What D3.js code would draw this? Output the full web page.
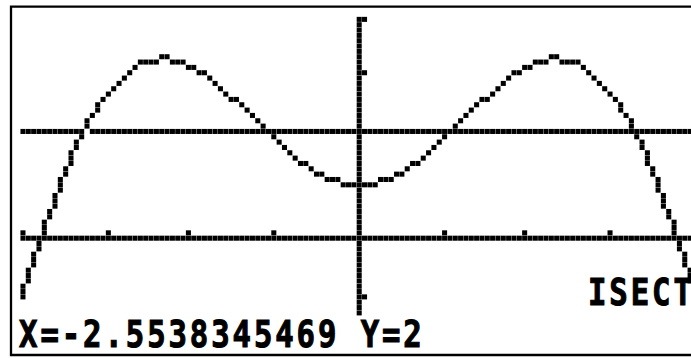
<!DOCTYPE html>
<html>
<head>
<meta charset="utf-8">
<script src="https://cdn.jsdelivr.net/npm/d3@7"></script>
<style>
  html, body { margin: 0; padding: 0; background: #fff; }
  svg { display: block; }
</style>
</head>
<body>
<svg id="screen" width="691" height="358"></svg>
<script>
// View window of the graph screen
const xRange = [-Math.PI, Math.PI];
const yRange = [4.1, -2.1];
const xTicks = [-Math.PI, -3 * Math.PI / 4, -Math.PI / 2, -Math.PI / 4,
                Math.PI / 4, Math.PI / 2, 3 * Math.PI / 4, Math.PI];
const yTicks = [4.1, 3.1, -1.1];
const lineY = 2;                 // second graph: Y = 2

// Trace of Y1, one entry per screen column: upper and lower end of the lit run
const curveTop = [
  -0.9, -0.6, -0.3, -0.1, 0.3, 0.5, 0.8, 1.1, 1.3, 1.6,
  1.8, 1.9, 2.2, 2.3, 2.5, 2.6, 2.7, 2.8, 2.9, 3.0,
  3.1, 3.2, 3.3, 3.3, 3.3, 3.3, 3.4, 3.4, 3.3, 3.3,
  3.3, 3.2, 3.2, 3.1, 3.1, 3.0, 2.9, 2.8, 2.7, 2.6,
  2.6, 2.5, 2.4, 2.3, 2.2, 2.1, 2.0, 1.9, 1.8, 1.7,
  1.6, 1.5, 1.4, 1.4, 1.3, 1.2, 1.2, 1.1, 1.1, 1.1,
  1.0, 1.0, 1.0, 1.0, 1.0, 1.0, 1.0, 1.1, 1.1, 1.1,
  1.2, 1.2, 1.3, 1.4, 1.4, 1.5, 1.6, 1.7, 1.8, 1.9,
  2.0, 2.1, 2.2, 2.3, 2.4, 2.5, 2.6, 2.6, 2.7, 2.8,
  2.9, 3.0, 3.1, 3.1, 3.2, 3.2, 3.3, 3.3, 3.3, 3.4,
  3.4, 3.3, 3.3, 3.3, 3.3, 3.2, 3.1, 3.0, 2.9, 2.8,
  2.7, 2.6, 2.5, 2.3, 2.2, 1.9, 1.8, 1.6, 1.3, 1.1,
  0.8, 0.5, 0.3, -0.1, -0.3, -0.6, -0.9
];
const curveBottom = [
  -1.1, -0.8, -0.5, -0.2, 0.0, 0.4, 0.6, 0.9, 1.2, 1.4,
  1.7, 1.9, 2.0, 2.3, 2.4, 2.6, 2.7, 2.8, 2.9, 3.0,
  3.1, 3.2, 3.3, 3.3, 3.3, 3.3, 3.4, 3.4, 3.3, 3.3,
  3.3, 3.2, 3.2, 3.1, 3.1, 3.0, 2.9, 2.8, 2.7, 2.6,
  2.6, 2.5, 2.4, 2.3, 2.2, 2.1, 2.0, 1.9, 1.8, 1.7,
  1.6, 1.5, 1.4, 1.4, 1.3, 1.2, 1.2, 1.1, 1.1, 1.1,
  1.0, 1.0, 1.0, 1.0, 1.0, 1.0, 1.0, 1.1, 1.1, 1.1,
  1.2, 1.2, 1.3, 1.4, 1.4, 1.5, 1.6, 1.7, 1.8, 1.9,
  2.0, 2.1, 2.2, 2.3, 2.4, 2.5, 2.6, 2.6, 2.7, 2.8,
  2.9, 3.0, 3.1, 3.1, 3.2, 3.2, 3.3, 3.3, 3.3, 3.4,
  3.4, 3.3, 3.3, 3.3, 3.3, 3.2, 3.1, 3.0, 2.9, 2.8,
  2.7, 2.6, 2.4, 2.3, 2.0, 1.9, 1.7, 1.4, 1.2, 0.9,
  0.6, 0.4, 0.0, -0.2, -0.5, -0.8, -1.1
];

const isect = { x: -2.5538345469, y: 2 };
const readout = "X=-2.5538345469 Y=2";
const menuLabel = "ISECT";

// LCD geometry
const COLS = 127, ROWS = 63;
const DOT = 5.337, LEFT = 20.3, TOP = 16.7;
const GRAPH_ROWS = 56;           // rows above the text line

const col = d3.scaleLinear().domain(xRange).range([0, COLS - 1]);
const row = d3.scaleLinear().domain(yRange).range([0, ROWS - 1]);
const colOf = x => Math.ceil(col(x) - 0.5 - 1e-9);
const rowOf = y => Math.round(row(y));
const px = c => LEFT + c * DOT;
const py = r => TOP + r * DOT;

const svg = d3.select("#screen");

// frame around the display
svg.append("path")
  .attr("d", `M700,6.7H11V355H700`)
  .attr("fill", "none")
  .attr("stroke", "#000")
  .attr("stroke-width", 2.3);

// collect lit dots
const lit = new Map();
const on = (c, r) => { if (c >= 0 && c < COLS && r >= 0 && r < ROWS) lit.set(c + "," + r, [c, r]); };

const r0 = rowOf(0), c0 = colOf(0);
d3.range(COLS).forEach(c => on(c, r0));                  // x axis
d3.range(GRAPH_ROWS).forEach(r => on(c0, r));            // y axis
xTicks.forEach(x => on(colOf(x), r0 - 1));
yTicks.forEach(y => on(c0 + 1, rowOf(y)));
d3.range(COLS).forEach(c => on(c, rowOf(lineY)));        // Y2 = 2

curveTop.forEach((t, c) => {
  const a = rowOf(t), b = rowOf(curveBottom[c]);
  d3.range(Math.min(a, b), Math.max(a, b) + 1).forEach(r => on(c, r));
});

// flashing cursor at the intersection shows as an unlit dot
lit.delete(colOf(isect.x) + "," + rowOf(isect.y));

svg.append("g")
  .selectAll("rect")
  .data(Array.from(lit.values()))
  .join("rect")
  .attr("x", d => px(d[0]) + 0.15)
  .attr("y", d => py(d[1]) + 0.15)
  .attr("width", DOT - 0.3)
  .attr("height", DOT - 0.3)
  .attr("fill", "#000");

// text line: 4 dots per character, glyphs 3 dots wide and 5 high
const SX = 0.84;                 // narrow the glyphs to the 3-dot cell
function dotText(str, startCol, topRow) {
  const xs = Array.from(str).map((ch, i) => (px(startCol + 4 * i + 1.5) / SX).toFixed(2));
  svg.append("text")
    .attr("x", xs.join(" "))
    .attr("y", py(topRow + 5) - 0.3)
    .attr("transform", `scale(${SX},1)`)
    .attr("text-anchor", "middle")
    .attr("font-family", "DejaVu Sans Mono")
    .attr("font-weight", "bold")
    .attr("font-size", 36.5)
    .attr("fill", "#000")
    .attr("stroke", "#000")
    .attr("stroke-width", 1.1)
    .text(str);
}
dotText(readout, 0, 57);
dotText(menuLabel, 106.6, 49);
</script>
</body>
</html>
